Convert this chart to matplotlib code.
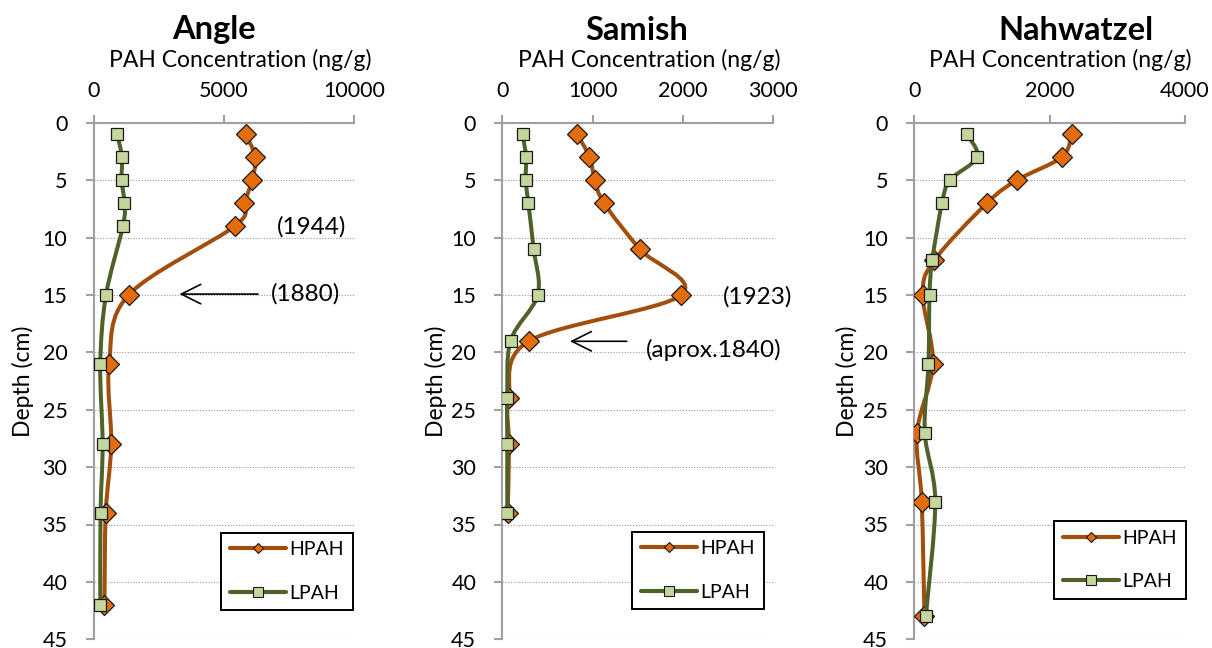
import matplotlib
matplotlib.use("Agg")
import matplotlib.pyplot as plt
from matplotlib.path import Path
from matplotlib.patches import PathPatch
from matplotlib.lines import Line2D
import numpy as np

plt.rcParams['font.family'] = ['Lato', 'DejaVu Sans']

# ---------------- data ----------------
sites = ["Angle", "Samish", "Nahwatzel"]

depth_angle = [1, 3, 5, 7, 9, 15, 21, 28, 34, 42]
hpah_angle = [5840, 6210, 6090, 5780, 5430, 1350, 600, 680, 470, 420]
lpah_angle = [910, 1090, 1080, 1190, 1130, 480, 260, 350, 270, 260]

depth_samish = [1, 3, 5, 7, 11, 15, 19, 24, 28, 34]
hpah_samish = [830, 965, 1025, 1125, 1520, 1980, 300, 70, 75, 60]
lpah_samish = [225, 262, 260, 288, 347, 392, 92, 55, 55, 55]

depth_nah = [1, 3, 5, 7, 12, 15, 21, 27, 33, 43]
hpah_nah = [2330, 2180, 1520, 1075, 295, 125, 275, 40, 110, 150]
lpah_nah = [775, 930, 530, 410, 265, 225, 210, 155, 310, 170]

xmax = [10000, 3000, 4000]
xstep = [5000, 1000, 2000]

# annotations: (text, x, depth)
labels_angle = [("(1944)", 8360, 9.1), ("(1880)", 8130, 14.9)]
arrow_angle = ((6316, 14.93), (3299, 14.93))  # tail, head
labels_samish = [("(1923)", 2822, 15.2), ("(aprox.1840)", 2337, 19.8)]
arrow_samish = ((1378, 19.04), (750, 19.04))

# ---------------- style ----------------
W, H = 1212, 648
H_LINE = '#A24E0D'
H_FILL = '#E46C0A'
L_LINE = '#4F6228'
L_FILL = '#C3D69B'
AX_GRAY = '#A0A0A0'


def fx(px):
    return px / W


def fy(py):
    return 1 - py / H


def smooth_path(xs, ys):
    pts = np.column_stack([xs, ys]).astype(float)
    n = len(pts)
    verts = [pts[0]]
    codes = [Path.MOVETO]
    for i in range(n - 1):
        p0 = pts[i - 1] if i > 0 else pts[i]
        p1 = pts[i]
        p2 = pts[i + 1]
        p3 = pts[i + 2] if i + 2 < n else pts[i + 1]
        c1 = p1 + (p2 - p0) / 6.0
        c2 = p2 - (p3 - p1) / 6.0
        verts += [c1, c2, p2]
        codes += [Path.CURVE4] * 3
    return Path(verts, codes)


fig = plt.figure(figsize=(W / 100, H / 100), dpi=100)
fig.patch.set_facecolor('white')

ax_px = [(93.5, 354.0), (502.3, 773.3), (914.3, 1184.7)]
top_px, bot_px = 122.7, 639.3
title_x = [214, 637, 1076]
xlabel_x = [240, 649, 1060]
ylabel_x = [23, 436, 847]
legend_c = [(287, 571.4), (698, 570.4), (1120, 560)]

series = [
    (depth_angle, hpah_angle, lpah_angle),
    (depth_samish, hpah_samish, lpah_samish),
    (depth_nah, hpah_nah, lpah_nah),
]
annots = [(labels_angle, arrow_angle), (labels_samish, arrow_samish), ([], None)]

for k in range(3):
    l, r = ax_px[k]
    ax = fig.add_axes([fx(l), fy(bot_px), (r - l) / W, (bot_px - top_px) / H])
    d, hp, lp = series[k]

    ax.set_xlim(0, xmax[k])
    ax.set_ylim(45, 0)
    ax.set_xticks(np.arange(0, xmax[k] + 1, xstep[k]))
    ax.set_yticks(np.arange(0, 46, 5))
    ax.xaxis.tick_top()
    for s in ['right', 'bottom']:
        ax.spines[s].set_visible(False)
    for s in ['top', 'left']:
        ax.spines[s].set_color(AX_GRAY)
        ax.spines[s].set_linewidth(1.5)
    ax.tick_params(axis='x', which='major', direction='out', length=5.8, width=1.5,
                   color=AX_GRAY, labelsize=15.5, pad=10, top=True, bottom=False)
    ax.tick_params(axis='y', which='major', direction='out', length=5.8, width=1.5,
                   color=AX_GRAY, labelsize=15.5, pad=13)
    ax.yaxis.grid(True, color='#9A9A9A', linestyle=(0, (1, 1.5)), linewidth=0.8)
    ax.set_axisbelow(True)

    # HPAH
    ax.add_patch(PathPatch(smooth_path(hp, d), facecolor='none', edgecolor=H_LINE,
                           lw=2.9, capstyle='round', joinstyle='round', zorder=3))
    ax.plot(hp, d, linestyle='none', marker='D', ms=10.2, mfc=H_FILL, mec='#1a1a1a',
            mew=0.9, zorder=4)
    # LPAH
    ax.add_patch(PathPatch(smooth_path(lp, d), facecolor='none', edgecolor=L_LINE,
                           lw=2.9, capstyle='round', joinstyle='round', zorder=5))
    ax.plot(lp, d, linestyle='none', marker='s', ms=9.0, mfc=L_FILL, mec='#1a1a1a',
            mew=0.9, zorder=6)

    labs, arr = annots[k]
    for t, x, y in labs:
        ax.text(x, y, t, fontsize=17.5, ha='center', va='center', zorder=7)
    if arr is not None:
        ax.annotate('', xy=arr[1], xytext=arr[0],
                    arrowprops=dict(arrowstyle='->,head_length=1.0,head_width=0.5',
                                    lw=1.2, color='black', mutation_scale=14,
                                    shrinkA=0, shrinkB=0), zorder=7)

    # legend
    h1 = Line2D([], [], color=H_LINE, lw=3.0, marker='D', ms=5.6, mfc=H_FILL,
                mec='#1a1a1a', mew=0.8, solid_capstyle='round')
    h2 = Line2D([], [], color=L_LINE, lw=3.0, marker='s', ms=7.8, mfc=L_FILL,
                mec='#1a1a1a', mew=0.8, solid_capstyle='round')
    cx, cy = legend_c[k]
    leg = ax.legend([h1, h2], ['HPAH', 'LPAH'], loc='center',
                    bbox_to_anchor=(fx(cx), fy(cy)), bbox_transform=fig.transFigure,
                    fontsize=14, frameon=True, fancybox=False, framealpha=1,
                    edgecolor='black', borderpad=0.45, labelspacing=1.35,
                    handlelength=2.85, handletextpad=0.2, numpoints=1)
    leg.get_frame().set_linewidth(1.4)
    leg.set_zorder(10)

    fig.text(fx(title_x[k]), fy(39.5), sites[k], fontsize=23.5, fontweight='bold',
             ha='center', va='baseline')
    fig.text(fx(xlabel_x[k]), fy(66.7), 'PAH Concentration (ng/g)', fontsize=16.5,
             ha='center', va='baseline')
    fig.text(fx(ylabel_x[k]), fy((top_px + bot_px) / 2), 'Depth (cm)', fontsize=16.5,
             rotation=90, ha='center', va='center')

fig.savefig('out.png', dpi=100, facecolor='white')
